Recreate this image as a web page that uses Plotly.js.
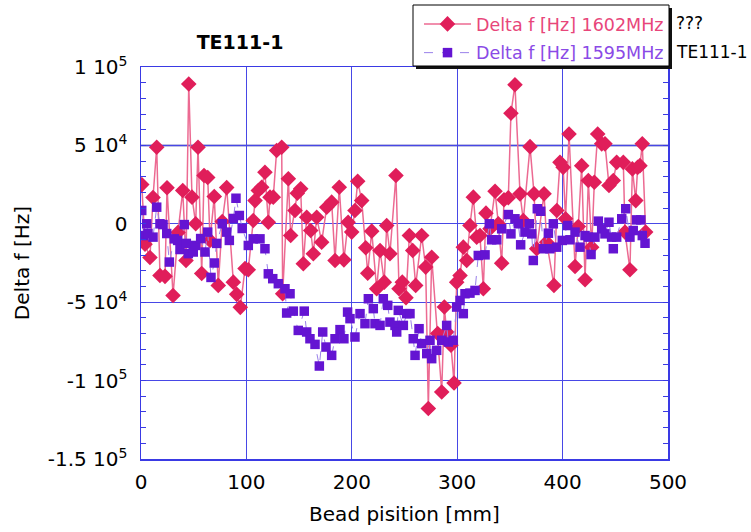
<!DOCTYPE html>
<html>
<head>
<meta charset="utf-8">
<script src="https://cdn.plot.ly/plotly-3.0.1.min.js"></script>
<style>html,body{margin:0;padding:0;background:#fff;}#chart{width:751px;height:532px;}</style>
</head>
<body>
<div id="chart"></div>
<script>
// Bead position [mm] and Delta f [Hz], 1602 MHz series
const posA = [0.7, 3.8, 8.5, 11.4, 14.9, 18.0, 22.8, 24.7, 30.4, 35.1,
  39.6, 42.7, 45.3, 48.4, 51.9, 54.1, 57.6, 59.8, 63.3, 65.5,
  69.5, 73.3, 77.1, 81.3, 87.6, 90.8, 94.2, 98.7, 101.8, 106.5,
  108.2, 111.3, 114.5, 117.6, 120.8, 122.4, 125.5, 128.7, 133.5, 134.4,
  139.8, 142.0, 146.1, 148.3, 151.5, 154.0, 157.2, 161.0, 163.5, 166.7,
  171.4, 176.2, 180.9, 184.1, 188.1, 192.5, 196.5, 199.9, 203.0, 205.6,
  209.4, 213.2, 215.1, 218.9, 223.6, 226.8, 230.8, 233.1, 236.2, 241.9,
  244.8, 247.9, 251.4, 254.6, 257.8, 260.6, 266.3, 270.1, 272.6, 275.8,
  281.5, 285.3, 287.8, 290.0, 294.1, 297.0, 299.5, 302.7, 305.8, 309.0,
  312.1, 315.3, 318.5, 321.6, 324.8, 327.3, 331.1, 335.9, 339.0, 342.2,
  344.4, 348.5, 351.0, 354.8, 359.6, 362.7, 369.1, 372.9, 375.4, 382.4,
  384.9, 391.8, 394.5, 397.5, 400.5, 402.8, 406.1, 411.8, 414.9, 418.1,
  421.3, 424.4, 427.6, 430.1, 433.3, 437.1, 440.2, 444.0, 448.1, 451.3,
  457.6, 459.2, 463.9, 466.2, 469.4, 471.2, 473.4, 475.6, 478.8];
const dfA = [25000, -13000, -21500, 16800, 48800, -33000, -33500, 23000, -45700, -5500,
  21200, -23400, 89200, 17000, 0, 48800, -31700, 30800, 29500, -10600,
  17400, -39300, 1500, 23100, -37200, -45000, -53300, -28500, -29300, 2100,
  14800, 21200, 23300, 32900, 1000, 17000, 17000, 46700, 48800, -44600,
  28700, -7500, 8500, 19500, 22300, -25500, 4200, -4300, -19100, 4200,
  -11700, 10600, 13800, -23400, 23300, -23000, 1000, -5300, 8500, 27100,
  14800, -15300, -31500, -4700, -41400, -17000, -37200, -1100, -19100, 30800,
  -41400, -37200, -47100, -7500, -17000, -39300, -7500, -27600, -117800, -21300,
  -70000, -107300, -53100, -69000, -77500, -101500, -37200, -33000, -14900, -23400,
  -1100, 17000, -8500, -7500, -41400, 6800, -3200, 20800, 0, -25100,
  15300, 16600, 70500, 88700, 19100, 2100, 49200, 19100, -15900, 19100,
  -11700, -39300, 8500, 39200, 36000, 3200, 57300, -27200, -1700, 37100,
  -35700, 27600, -14900, 26500, 57300, 51000, 51000, 24400, 27600, 39200,
  39200, -5300, -29300, 35000, 14800, 36000, 37100, 51000, -5300];

// 1595 MHz series
const posB = [0.7, 2.5, 5.4, 6.6, 11.4, 14.9, 18.0, 20.9, 24.4, 26.9,
  31.6, 34.8, 37.0, 41.1, 43.0, 44.9, 49.6, 51.9, 56.6, 60.7,
  63.3, 66.4, 69.5, 71.8, 77.1, 81.3, 83.8, 87.6, 90.1, 93.3,
  96.0, 101.8, 106.5, 112.9, 117.6, 120.8, 125.0, 130.3, 136.6, 138.2,
  141.4, 144.5, 149.2, 154.9, 157.2, 160.3, 165.1, 169.2, 172.4, 175.5,
  180.9, 184.1, 188.8, 192.5, 196.0, 198.3, 203.0, 207.8, 212.5, 215.7,
  220.4, 222.0, 226.8, 229.9, 234.1, 236.2, 241.0, 242.6, 244.1, 248.9,
  252.1, 255.2, 258.3, 260.0, 263.8, 266.3, 271.1, 274.2, 275.8, 280.5,
  285.3, 290.0, 291.6, 296.3, 299.5, 302.7, 305.8, 307.4, 312.1, 316.9,
  320.0, 326.4, 330.5, 332.7, 337.5, 342.2, 348.5, 351.0, 354.8, 358.0,
  360.2, 364.3, 368.4, 370.7, 372.2, 376.0, 379.2, 381.7, 386.5, 388.0,
  391.2, 394.4, 399.7, 404.8, 407.0, 411.8, 416.5, 421.3, 424.4, 427.0,
  430.7, 433.9, 437.1, 440.2, 444.0, 446.5, 448.1, 451.3, 456.1, 459.9,
  463.9, 467.0, 470.2, 474.2, 475.6, 478.2];
const dfB = [8500, -7500, 0, -6200, -8500, 10600, 0, -500, -6200, -24400,
  -9600, -10600, -16400, -500, -12500, -19000, -18000, -13800, -9400, -18000,
  -5300, -34200, -25000, -12500, 0, -5300, -10600, 3400, 16300, 5300,
  -3000, -13800, -9600, -9600, -15900, -31900, -35000, -38200, -41400, -56900,
  -44600, -55700, -68000, -55700, -69000, -73300, -76900, -90700, -69000, -78600,
  -83900, -73300, -67500, -73300, -56300, -60500, -72200, -57300, -63700, -47800,
  -54100, -63700, -64800, -47800, -52000, -62700, -64800, -69000, -55200, -64800,
  -57300, -57300, -73300, -83900, -66900, -76400, -82800, -74300, -86000, -80700,
  -74300, -64800, -75400, -74300, -53100, -48900, -57300, -44600, -44200, -42500,
  -20200, -19800, 0, -10200, -10200, -3200, 5900, -6400, 3200, 0,
  -13400, -5300, 0, -6400, -23400, 9600, 8000, -15900, -6000, -15900,
  0, -14900, -10600, -1100, -10200, -5300, -14900, -7500, -8500, -19600,
  -8500, 1700, -3200, -6400, 1000, -8500, -15900, -8500, 3200, 9600,
  -8500, -4300, 2500, 2500, -7500, -12400];

const xTicks = [0, 100, 200, 300, 400, 500];
const yTicks = [-150000, -100000, -50000, 0, 50000, 100000];
const yTickText = ['-1.5 10<sup>5</sup>', '-1 10<sup>5</sup>', '-5 10<sup>4</sup>', '0', '5 10<sup>4</sup>', '1 10<sup>5</sup>'];
const nameA = 'Delta f [Hz] 1602MHz';
const nameB = 'Delta f [Hz] 1595MHz';
const titleText = 'TE111-1';

const FONT = 'DejaVu Sans, Liberation Sans, Arial, sans-serif';
const RED = '#e01e5a', REDLINE = '#ec6a92';
const PUR = '#6414d2', PURLINE = '#9a80ea';
const GRID = '#4848e6';

const traces = [
  {x: posA, y: dfA, type: 'scatter', mode: 'lines+markers', name: '<span style="color:#e8467a">' + nameA + '</span>',
   legendgroup: 'a',
   line: {color: REDLINE, width: 1.5},
   marker: {symbol: 'diamond', size: 12, color: RED, line: {width: 0}}},
  {x: posB, y: dfB, type: 'scatter', mode: 'lines+markers', name: '<span style="color:#8a4ae6">' + nameB + '</span>',
   legendgroup: 'b',
   line: {color: PURLINE, width: 1, dash: 'dash'},
   marker: {symbol: 'square', size: 9.5, color: PUR, line: {width: 0}}}
];

const L = 141, R = 668, T = 67, B = 459;
const px = v => (v - L) / (R - L);
const py = v => (B - v) / (B - T);

const layout = {
  width: 751, height: 532,
  margin: {l: L, r: 751 - R, t: T, b: 532 - B, autoexpand: false},
  paper_bgcolor: '#fff', plot_bgcolor: '#fff',
  font: {family: FONT, size: 20, color: '#000'},
  title: {text: titleText, font: {family: FONT, size: 19, weight: 'bold', color: '#000'},
          x: px(240), xref: 'paper', xanchor: 'center', y: 1 - 42 / 532, yref: 'container', yanchor: 'middle'},
  showlegend: true,
  legend: {x: px(419), y: py(6), xanchor: 'left', yanchor: 'top', bgcolor: 'rgba(0,0,0,0)', borderwidth: 0,
           font: {family: FONT, size: 17.5}, itemwidth: 47, tracegroupgap: 3, traceorder: 'grouped'},
  xaxis: {range: [0, 500], tickvals: xTicks, ticktext: xTicks.map(String), automargin: false,
          showgrid: true, gridcolor: GRID, gridwidth: 1.2, zeroline: false,
          showline: true, linecolor: '#3a3ae4', linewidth: 1.5, mirror: true,
          ticks: '', tickfont: {family: FONT, size: 20}, ticklabelstandoff: 4,
          title: {text: 'Bead pisition [mm]', font: {family: FONT, size: 20}, standoff: 14}},
  yaxis: {range: [-150000, 100000], tickvals: yTicks, ticktext: yTickText, automargin: false,
          showgrid: true, gridcolor: GRID, gridwidth: 1.2, zeroline: false,
          showline: true, linecolor: '#3a3ae4', linewidth: 1.5, mirror: 'allticks',
          ticks: 'inside', ticklen: 5, tickcolor: '#3a3ae4',
          minor: {dtick: 10000, ticks: 'inside', ticklen: 5, tickcolor: '#3a3ae4', showgrid: false},
          tickfont: {family: FONT, size: 20}, ticklabelstandoff: 8,
          title: {text: 'Delta f [Hz]', font: {family: FONT, size: 20}, standoff: 12}},
  shapes: [
    {type: 'line', xref: 'paper', yref: 'y', x0: 0, x1: 1, y0: 50000, y1: 50000,
     line: {color: '#00008e', width: 1.5}, layer: 'below'},
    {type: 'rect', xref: 'paper', yref: 'paper', x0: px(416), x1: px(672), y0: py(69), y1: py(8),
     fillcolor: '#111', line: {width: 0}, layer: 'above'},
    {type: 'rect', xref: 'paper', yref: 'paper', x0: px(413), x1: px(669), y0: py(66), y1: py(5),
     fillcolor: '#fff', line: {color: '#000', width: 1}, layer: 'above'}
  ],
  annotations: [
    {text: '???', xref: 'paper', yref: 'paper', x: px(674), y: py(23), xanchor: 'left', yanchor: 'middle',
     showarrow: false, font: {family: FONT, size: 17, color: '#000'}},
    {text: 'TE111-1', xref: 'paper', yref: 'paper', x: px(674), y: py(52), xanchor: 'left', yanchor: 'middle',
     showarrow: false, font: {family: FONT, size: 17, color: '#000'}}
  ]
};

Plotly.newPlot('chart', traces, layout, {displayModeBar: false, staticPlot: true});
</script>
</body>
</html>
